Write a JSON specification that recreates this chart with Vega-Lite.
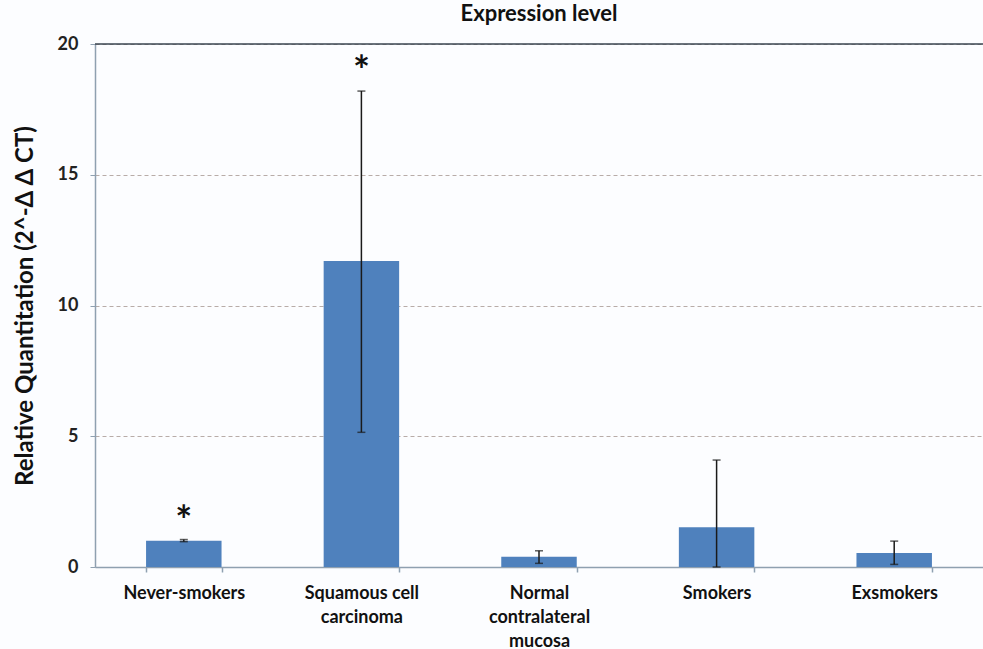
{
  "$schema": "https://vega.github.io/schema/vega-lite/v6.json",
  "width": 888,
  "height": 523,
  "autosize": {"type": "none"},
  "padding": {"left": 95, "top": 44, "right": 0, "bottom": 82},
  "background": "#fcfdff",
  "config": {
    "view": {"stroke": null},
    "font": "Lato",
    "title": {"font": "Lato", "fontSize": 22, "fontWeight": "bold", "color": "#111111", "offset": 9, "anchor": "middle"}
  },
  "title": "Expression level",
  "data": {
    "values": [
      {"group": "Never-smokers", "value": 1.0, "lo": 0.97, "hi": 1.05, "star": 2.1},
      {"group": "Squamous cell|carcinoma", "value": 11.7, "lo": 5.15, "hi": 18.2, "star": 19.3},
      {"group": "Normal|contralateral|mucosa", "value": 0.39, "lo": 0.14, "hi": 0.62, "star": null},
      {"group": "Smokers", "value": 1.52, "lo": 0.0, "hi": 4.09, "star": null},
      {"group": "Exsmokers", "value": 0.54, "lo": 0.1, "hi": 0.99, "star": null}
    ]
  },
  "layer": [
    {
      "encoding": {
        "x": {
          "field": "group", "type": "nominal", "sort": null,
          "scale": {"paddingInner": 0.575, "paddingOuter": 0.2875},
          "axis": {
            "title": null, "labelAngle": 0, "labelExpr": "split(datum.label, '|')",
            "labelFont": "Lato", "labelFontSize": 18, "labelFontWeight": "bold", "labelColor": "#111111",
            "labelLineHeight": 24, "labelPadding": 12, "labelBaseline": "top",
            "domainColor": "#8fa0b0", "domainWidth": 1.5,
            "tickColor": "#8fa0b0", "tickSize": 5, "tickBand": "extent", "tickWidth": 1.5
          }
        }
      },
      "layer": [
        {
          "mark": {"type": "bar", "color": "#4f81bd"},
          "encoding": {
            "y": {
              "field": "value", "type": "quantitative",
              "scale": {"domain": [0, 20], "nice": false},
              "axis": {
                "values": [0, 5, 10, 15, 20],
                "title": "Relative Quantitation (2^-Δ Δ CT)",
                "titleFont": "Lato", "titleFontSize": 24, "titleFontWeight": "bold", "titleColor": "#111111", "titlePadding": 20,
                "labelFont": "Lato", "labelFontSize": 18, "labelFontWeight": "bold", "labelColor": "#222222", "labelPadding": 12,
                "domainColor": "#8fa0b0", "domainWidth": 1.5,
                "tickColor": "#8fa0b0", "tickSize": 5,
                "grid": true, "gridColor": "#b8aca8", "gridDash": [4, 3], "gridWidth": 1
              }
            }
          }
        },
        {
          "mark": {"type": "rule", "color": "#1a1a1a", "strokeWidth": 1.5},
          "encoding": {"y": {"field": "lo", "type": "quantitative"}, "y2": {"field": "hi"}}
        },
        {
          "mark": {"type": "tick", "color": "#1a1a1a", "thickness": 1.5, "size": 8},
          "encoding": {"y": {"field": "hi", "type": "quantitative"}}
        },
        {
          "mark": {"type": "tick", "color": "#1a1a1a", "thickness": 1.5, "size": 8},
          "encoding": {"y": {"field": "lo", "type": "quantitative"}}
        },
        {
          "mark": {"type": "text", "text": "*", "fontSize": 40, "fontWeight": "bold", "color": "#111111", "baseline": "alphabetic", "dy": 23, "font": "Lato"},
          "transform": [{"filter": "datum.star != null"}],
          "encoding": {"y": {"field": "star", "type": "quantitative"}}
        }
      ]
    },
    {
      "data": {"values": [{"top": 20}]},
      "mark": {"type": "rule", "color": "#3a4550", "strokeWidth": 1.5},
      "encoding": {"y": {"field": "top", "type": "quantitative"}}
    }
  ]
}
